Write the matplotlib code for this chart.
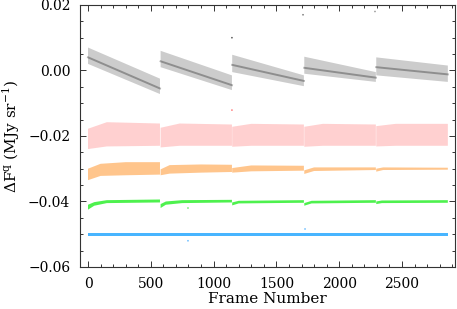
import numpy as np
import matplotlib
matplotlib.use("Agg")
import matplotlib.pyplot as plt

nan = np.nan

# frame knots of each pointing segment (y = nan breaks the band between segments)
black_frame = [0, 573, 573, 578, 1146, 1146, 1148, 1719, 1719, 1722, 2292, 2292, 2295, 2865]
black_lo = [0.0020, -0.0072, nan, 0.0010, -0.0060, nan, -0.0005, -0.0048, nan, -0.0010, -0.0035, nan, -0.0015, -0.0035]
black_hi = [0.0070, -0.0025, nan, 0.0060, -0.0015, nan, 0.0048, -0.0015, nan, 0.0042, -0.0005, nan, 0.0040, 0.0015]
black_mid = [0.0040, -0.0055, nan, 0.0028, -0.0045, nan, 0.0017, -0.0032, nan, 0.0008, -0.0022, nan, 0.0010, -0.0012]

red_frame = [0, 150, 573, 573, 578, 730, 1146, 1146, 1148, 1300, 1719, 1719, 1722, 1870, 2292, 2292, 2295, 2450, 2865]
red_lo = [-0.0240, -0.0232, -0.0230, nan, -0.0235, -0.0230, -0.0230, nan, -0.0233, -0.0230, -0.0230, nan,
          -0.0233, -0.0230, -0.0230, nan, -0.0232, -0.0230, -0.0230]
red_hi = [-0.0178, -0.0158, -0.0162, nan, -0.0175, -0.0162, -0.0165, nan, -0.0172, -0.0163, -0.0165, nan,
          -0.0172, -0.0163, -0.0165, nan, -0.0170, -0.0163, -0.0163]

orange_frame = [0, 100, 300, 573, 573, 578, 650, 900, 1146, 1146, 1148, 1300, 1719, 1719,
                1722, 1800, 2292, 2292, 2295, 2350, 2865]
orange_lo = [-0.0335, -0.0322, -0.0320, -0.0318, nan, -0.0320, -0.0315, -0.0312, -0.0310, nan,
             -0.0312, -0.0308, -0.0306, nan, -0.0316, -0.0307, -0.0304, nan, -0.0309, -0.0304, -0.0303]
orange_hi = [-0.0300, -0.0285, -0.0280, -0.0280, nan, -0.0302, -0.0289, -0.0287, -0.0288, nan,
             -0.0298, -0.0290, -0.0291, nan, -0.0305, -0.0296, -0.0296, nan, -0.0300, -0.0296, -0.0297]

green_frame = [0, 50, 150, 573, 573, 578, 620, 750, 1146, 1146, 1148, 1200, 1719, 1719,
               1722, 1780, 2292, 2292, 2295, 2340, 2865]
green_lo = [-0.0425, -0.0413, -0.0405, -0.0403, nan, -0.0420, -0.0410, -0.0405, -0.0403, nan,
            -0.0412, -0.0406, -0.0404, nan, -0.0413, -0.0406, -0.0404, nan, -0.0408, -0.0405, -0.0404]
green_hi = [-0.0410, -0.0402, -0.0396, -0.0394, nan, -0.0408, -0.0400, -0.0396, -0.0395, nan,
            -0.0403, -0.0398, -0.0396, nan, -0.0405, -0.0398, -0.0396, nan, -0.0400, -0.0397, -0.0396]

blue_frame = [0, 2865]
blue_lo = [-0.0505, -0.0505]
blue_hi = [-0.0496, -0.0496]

# a few stray frames
out_frame = [1146, 1712, 2285, 1146, 796, 1728, 796]
out_value = [0.0100, 0.0170, 0.0180, -0.0121, -0.0520, -0.0484, -0.0420]
out_color = ["#555555", "#777777", "#999999", "#ff7777", "#66bbff", "#66bbff", "#66ee66"]

plt.rcParams["font.family"] = ["DejaVu Serif"]

fig = plt.figure(figsize=(4.57, 3.09), dpi=100)
ax = fig.add_axes([0.175, 0.136, 0.8206, 0.848])

ax.fill_between(black_frame, black_lo, black_hi, color="#000000", alpha=0.2, lw=0)
ax.plot(black_frame, black_mid, color="#000000", alpha=0.3, lw=1.4)
ax.fill_between(red_frame, red_lo, red_hi, color="#ff2a2a", alpha=0.22, lw=0)
ax.fill_between(orange_frame, orange_lo, orange_hi, color="#ff8c1a", alpha=0.5, lw=0)
ax.fill_between(green_frame, green_lo, green_hi, color="#22ee22", alpha=0.8, lw=0)
ax.fill_between(blue_frame, blue_lo, blue_hi, color="#1aa3ff", alpha=0.8, lw=0)
ax.scatter(out_frame, out_value, s=1.5, c=out_color, lw=0)

ax.set_xlim(-64, 2922)
ax.set_ylim(-0.06, 0.02)
ax.set_xticks([0, 500, 1000, 1500, 2000, 2500])
ax.set_xticks(np.arange(0, 2901, 100), minor=True)
ax.set_yticks([-0.06, -0.04, -0.02, 0.0, 0.02])
ax.set_yticks(np.arange(-0.06, 0.0201, 0.005), minor=True)
ax.set_yticklabels(["\u22120.06", "\u22120.04", "\u22120.02", "0.00", "0.02"])
ax.tick_params(which="both", direction="in", top=True, right=True, labelsize=10, color="#333333", width=0.7)
ax.tick_params(which="major", length=4.5, pad=7)
ax.tick_params(which="minor", length=2.5)
for sp in ax.spines.values():
    sp.set_linewidth(0.8)
    sp.set_color("#333333")

ax.set_xlabel("Frame Number", fontsize=11, labelpad=1)
ax.set_ylabel("\u0394F$^\\mathregular{q}$ (MJy sr$^\\mathregular{-1}$)", fontsize=11, labelpad=4)

fig.savefig("out.png", dpi=100)
